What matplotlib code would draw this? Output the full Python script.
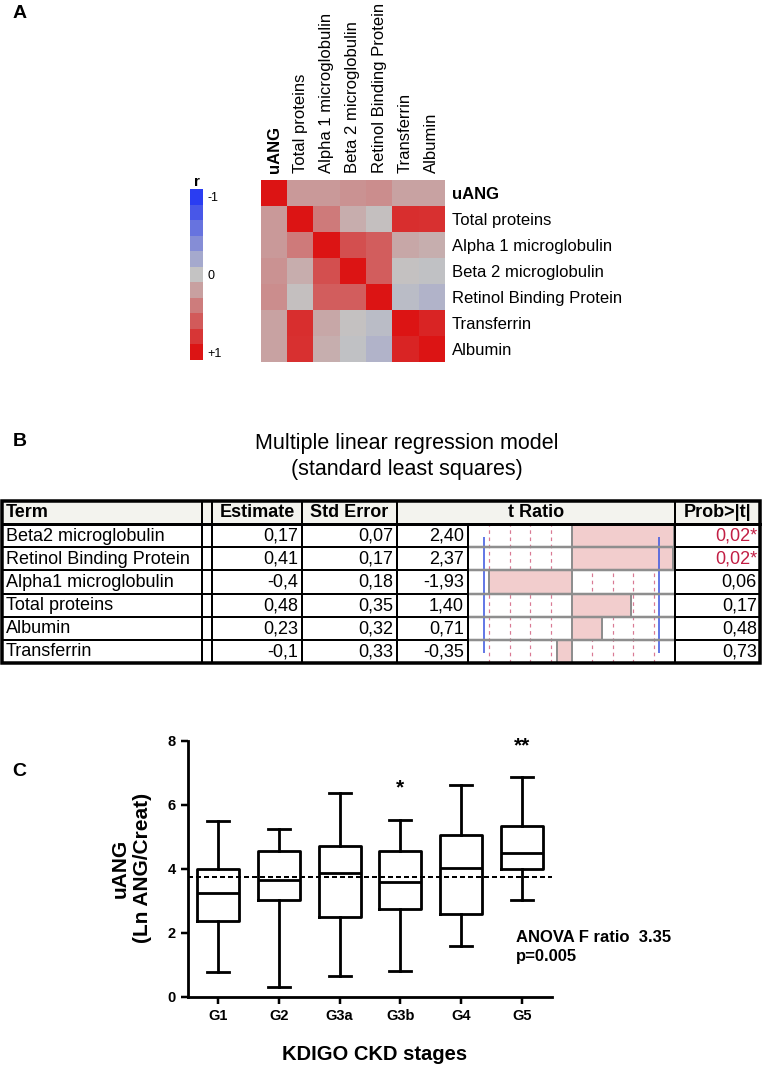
import matplotlib
matplotlib.use("Agg")
import matplotlib.pyplot as plt
import numpy as np
from matplotlib.colors import LinearSegmentedColormap, ListedColormap

W, H = 762, 1069

# ---------------- Panel A data ----------------
corr_vars = ["uANG", "Total proteins", "Alpha 1 microglobulin", "Beta 2 microglobulin",
             "Retinol Binding Protein", "Transferrin", "Albumin"]
corr_r = [
    [1.00, 0.24, 0.24, 0.28, 0.31, 0.19, 0.19],
    [0.24, 1.00, 0.42, 0.13, 0.03, 0.85, 0.83],
    [0.24, 0.42, 1.00, 0.66, 0.58, 0.16, 0.12],
    [0.28, 0.13, 0.66, 1.00, 0.58, 0.01, -0.02],
    [0.31, 0.03, 0.58, 0.58, 1.00, -0.06, -0.12],
    [0.19, 0.85, 0.16, 0.01, -0.06, 1.00, 0.90],
    [0.19, 0.83, 0.12, -0.02, -0.12, 0.90, 1.00],
]
cbar_levels = [-1.0, -0.8, -0.6, -0.4, -0.2, 0.0, 0.2, 0.4, 0.6, 0.8, 1.0]
cbar_ticks = [-1.0, 0.0, 1.0]
cbar_ticklabels = ["-1", "0", "+1"]

# ---------------- Panel B data ----------------
reg_title = ["Multiple linear regression model", "(standard least squares)"]
reg_header = ["Term", "Estimate", "Std Error", "t Ratio", "Prob>|t|"]
reg_terms = ["Beta2 microglobulin", "Retinol Binding Protein", "Alpha1 microglobulin",
             "Total proteins", "Albumin", "Transferrin"]
reg_estimate = [0.17, 0.41, -0.4, 0.48, 0.23, -0.1]
reg_stderr = [0.07, 0.17, 0.18, 0.35, 0.32, 0.33]
reg_tratio = [2.40, 2.37, -1.93, 1.40, 0.71, -0.35]
reg_p = [0.02, 0.02, 0.06, 0.17, 0.48, 0.73]
t_crit = 2.04
t_ref_lines = [-1.92, -1.44, -0.96, -0.48, 0.48, 0.96, 1.44, 1.92]

# ---------------- Panel C data ----------------
stages = ["G1", "G2", "G3a", "G3b", "G4", "G5"]
whisk_lo = [0.79, 0.31, 0.66, 0.82, 1.59, 3.04]
q1 = [2.39, 3.04, 2.51, 2.75, 2.60, 4.00]
med = [3.25, 3.66, 3.87, 3.58, 4.02, 4.50]
q3 = [4.00, 4.55, 4.73, 4.55, 5.05, 5.34]
whisk_hi = [5.50, 5.26, 6.39, 5.53, 6.63, 6.86]
overall_mean = 3.75
signif = ["", "", "", "*", "", "**"]

SANS = ["Liberation Sans", "DejaVu Sans"]
NARROW = ["Liberation Sans Narrow", "Liberation Sans", "DejaVu Sans"]
plt.rcParams["font.family"] = SANS

fig = plt.figure(figsize=(W / 100, H / 100), dpi=100)


def box(x0, y0, x1, y1):
    return [x0 / W, 1 - y1 / H, (x1 - x0) / W, (y1 - y0) / H]


def px(v):
    return v * 0.72


# overlay axes in pixel coordinates (for layout text / table grid)
axp = fig.add_axes([0, 0, 1, 1], zorder=5)
axp.set_xlim(0, W)
axp.set_ylim(H, 0)
axp.axis("off")
axp.patch.set_alpha(0)

# panel letters
for lab, (x, y) in zip("ABC", [(20, 13), (20, 442), (19, 771)]):
    axp.text(x, y, lab, fontsize=14, fontweight="bold", ha="center", va="center")

# ---------------- Panel A ----------------
cmap = LinearSegmentedColormap.from_list(
    "bgr", [(0.0, "#2A3DF2"), (0.5, "#C4C4C4"), (1.0, "#DC1414")])
ax_hm = fig.add_axes(box(261, 180, 445, 362))
ax_hm.imshow(np.array(corr_r), cmap=cmap, vmin=-1, vmax=1, aspect="auto",
             interpolation="nearest")
ax_hm.set_xticks(range(len(corr_vars)))
ax_hm.set_xticklabels(corr_vars, rotation=90, fontsize=12)
ax_hm.xaxis.tick_top()
ax_hm.set_yticks(range(len(corr_vars)))
ax_hm.set_yticklabels(corr_vars, fontsize=12)
ax_hm.yaxis.tick_right()
ax_hm.tick_params(length=0, pad=5)
ax_hm.get_xticklabels()[0].set_fontweight("bold")
ax_hm.get_yticklabels()[0].set_fontweight("bold")
for s in ax_hm.spines.values():
    s.set_visible(False)

ax_cb = fig.add_axes(box(190, 189, 203, 360))
cb_cmap = ListedColormap([cmap((v + 1) / 2) for v in cbar_levels])
ax_cb.imshow(np.array(cbar_levels).reshape(-1, 1), cmap=cb_cmap, vmin=-1.1, vmax=1.1,
             aspect="auto", interpolation="nearest",
             extent=[0, 1, cbar_levels[-1] + 0.1, cbar_levels[0] - 0.1])
ax_cb.set_ylim(cbar_levels[-1] + 0.1, cbar_levels[0] - 0.1)
ax_cb.set_xticks([])
ax_cb.yaxis.tick_right()
ax_cb.set_yticks(cbar_ticks)
ax_cb.set_yticklabels(cbar_ticklabels, fontsize=9)
ax_cb.tick_params(length=0, pad=3)
for s in ax_cb.spines.values():
    s.set_visible(False)
ax_cb.set_title("r", fontsize=11, fontweight="bold", pad=2, loc="center")

# ---------------- Panel B ----------------
axp.text(407, 443, reg_title[0], ha="center", va="center", fontsize=15.5, family=NARROW)
axp.text(407, 470, reg_title[1], ha="center", va="center", fontsize=15.5, family=NARROW)

cols = [2, 202, 212, 302, 397, 468, 675, 760]
top, hdr_bot, bot = 501, 524, 663
nrow = len(reg_terms)
rh = (bot - hdr_bot) / nrow

axp.add_patch(plt.Rectangle((cols[0], top), cols[-1] - cols[0], hdr_bot - top,
                            facecolor="#F3F3EE", edgecolor="none", zorder=0))

# bar area axes
ax_bar = fig.add_axes(box(cols[5], hdr_bot, cols[6], bot), zorder=2)
ax_bar.set_xlim(-2.42, 2.42)
ax_bar.set_ylim(nrow - 0.5, -0.5)
ax_bar.axis("off")
for t in t_ref_lines:
    ax_bar.axvline(t, color="#D97A94", lw=px(1.2), ls=(0, (3, 3)), zorder=1)
ax_bar.barh(range(nrow), reg_tratio, height=1.0, color="#F2CDCD",
            edgecolor="#8E8E8E", lw=px(2), zorder=2)
ax_bar.vlines([-t_crit, t_crit], 0.05, nrow - 0.95, color="#3F5AE0", lw=px(1.6), zorder=3)
for i in range(1, nrow):
    ax_bar.axhline(i - 0.5, color="#8E8E8E", lw=px(2.5), zorder=4)

# table grid
lk = dict(color="black", zorder=6)
for i in range(1, nrow):
    y = hdr_bot + i * rh
    axp.plot([cols[0], cols[5]], [y, y], lw=px(2), **lk)
    axp.plot([cols[6], cols[7]], [y, y], lw=px(2), **lk)
axp.plot([cols[0], cols[7]], [hdr_bot, hdr_bot], lw=px(3), **lk)
for c in [cols[1], cols[2], cols[3], cols[4], cols[6]]:
    axp.plot([c, c], [top, bot], lw=px(2), **lk)
axp.plot([cols[5], cols[5]], [hdr_bot, bot], lw=px(2), **lk)
axp.add_patch(plt.Rectangle((cols[0], top), cols[-1] - cols[0], bot - top,
                            fill=False, lw=px(3.5), edgecolor="black", zorder=7))

fs_tab = 13
hy = (top + hdr_bot) / 2
axp.text(cols[0] + 4, hy, reg_header[0], ha="left", va="center", fontsize=fs_tab,
         fontweight="bold", family=NARROW)
axp.text((cols[2] + cols[3]) / 2, hy, reg_header[1], ha="center", va="center",
         fontsize=fs_tab, fontweight="bold", family=NARROW)
axp.text((cols[3] + cols[4]) / 2, hy, reg_header[2], ha="center", va="center",
         fontsize=fs_tab, fontweight="bold", family=NARROW)
axp.text((cols[4] + cols[6]) / 2, hy, reg_header[3], ha="center", va="center",
         fontsize=fs_tab, fontweight="bold", family=NARROW)
axp.text((cols[6] + cols[7]) / 2, hy, reg_header[4], ha="center", va="center",
         fontsize=fs_tab, fontweight="bold", family=NARROW)


def fmt(v, nd=None):
    s = f"{v:.{nd}f}" if nd is not None else f"{v:g}"
    return s.replace(".", ",")


for i in range(nrow):
    y = hdr_bot + (i + 0.5) * rh + 0.5
    axp.text(cols[0] + 4, y, reg_terms[i], ha="left", va="center", fontsize=fs_tab,
             family=NARROW)
    axp.text(cols[3] - 4, y, fmt(reg_estimate[i]), ha="right", va="center",
             fontsize=fs_tab, family=NARROW)
    axp.text(cols[4] - 4, y, fmt(reg_stderr[i], 2), ha="right", va="center",
             fontsize=fs_tab, family=NARROW)
    axp.text(cols[5] - 4, y, fmt(reg_tratio[i], 2), ha="right", va="center",
             fontsize=fs_tab, family=NARROW)
    sig = reg_p[i] < 0.05
    axp.text(cols[7] - 3, y, fmt(reg_p[i], 2) + ("*" if sig else ""), ha="right",
             va="center", fontsize=fs_tab, family=NARROW,
             color="#C21F45" if sig else "black")

# ---------------- Panel C ----------------
ax_c = fig.add_axes(box(188, 741, 552, 997))
stats = [dict(whislo=whisk_lo[i], q1=q1[i], med=med[i], q3=q3[i], whishi=whisk_hi[i],
              label=stages[i]) for i in range(len(stages))]
lw_box = px(2.8)
ax_c.bxp(stats, positions=range(len(stages)), widths=0.69, capwidths=0.36,
         showfliers=False, patch_artist=False,
         boxprops=dict(color="black", lw=lw_box),
         whiskerprops=dict(color="black", lw=lw_box),
         capprops=dict(color="black", lw=lw_box),
         medianprops=dict(color="black", lw=lw_box))
ax_c.axhline(overall_mean, color="black", lw=px(2), ls=(0, (2.5, 1.5)), zorder=3)
for i, s in enumerate(signif):
    if s:
        ax_c.text(i, whisk_hi[i] + 1.0, s, ha="center", va="center", fontsize=15,
                  fontweight="bold")
ax_c.set_xlim(-0.5, 5.5)
ax_c.set_ylim(0, 8)
ax_c.set_yticks([0, 2, 4, 6, 8])
ax_c.set_xticks(range(len(stages)))
ax_c.set_xticklabels(stages)
for s in ["top", "right"]:
    ax_c.spines[s].set_visible(False)
for s in ["left", "bottom"]:
    ax_c.spines[s].set_linewidth(px(2.8))
ax_c.tick_params(width=px(2.5), length=5, labelsize=10.5, pad=4)
for lab in ax_c.get_xticklabels() + ax_c.get_yticklabels():
    lab.set_fontweight("bold")
ax_c.text(4.9, 1.87, "ANOVA F ratio  3.35", ha="left", va="center", fontsize=12,
          fontweight="bold", family=NARROW, clip_on=False)
ax_c.text(4.9, 1.25, "p=0.005", ha="left", va="center", fontsize=12,
          fontweight="bold", family=NARROW, clip_on=False)

axp.text(131, 868, "uANG\n(Ln ANG/Creat)", rotation=90, ha="center", va="center",
         fontsize=15, fontweight="bold", linespacing=1.2)
axp.text(375, 1054, "KDIGO CKD stages", ha="center", va="center", fontsize=14.5,
         fontweight="bold")

fig.savefig("out.png", dpi=100)
